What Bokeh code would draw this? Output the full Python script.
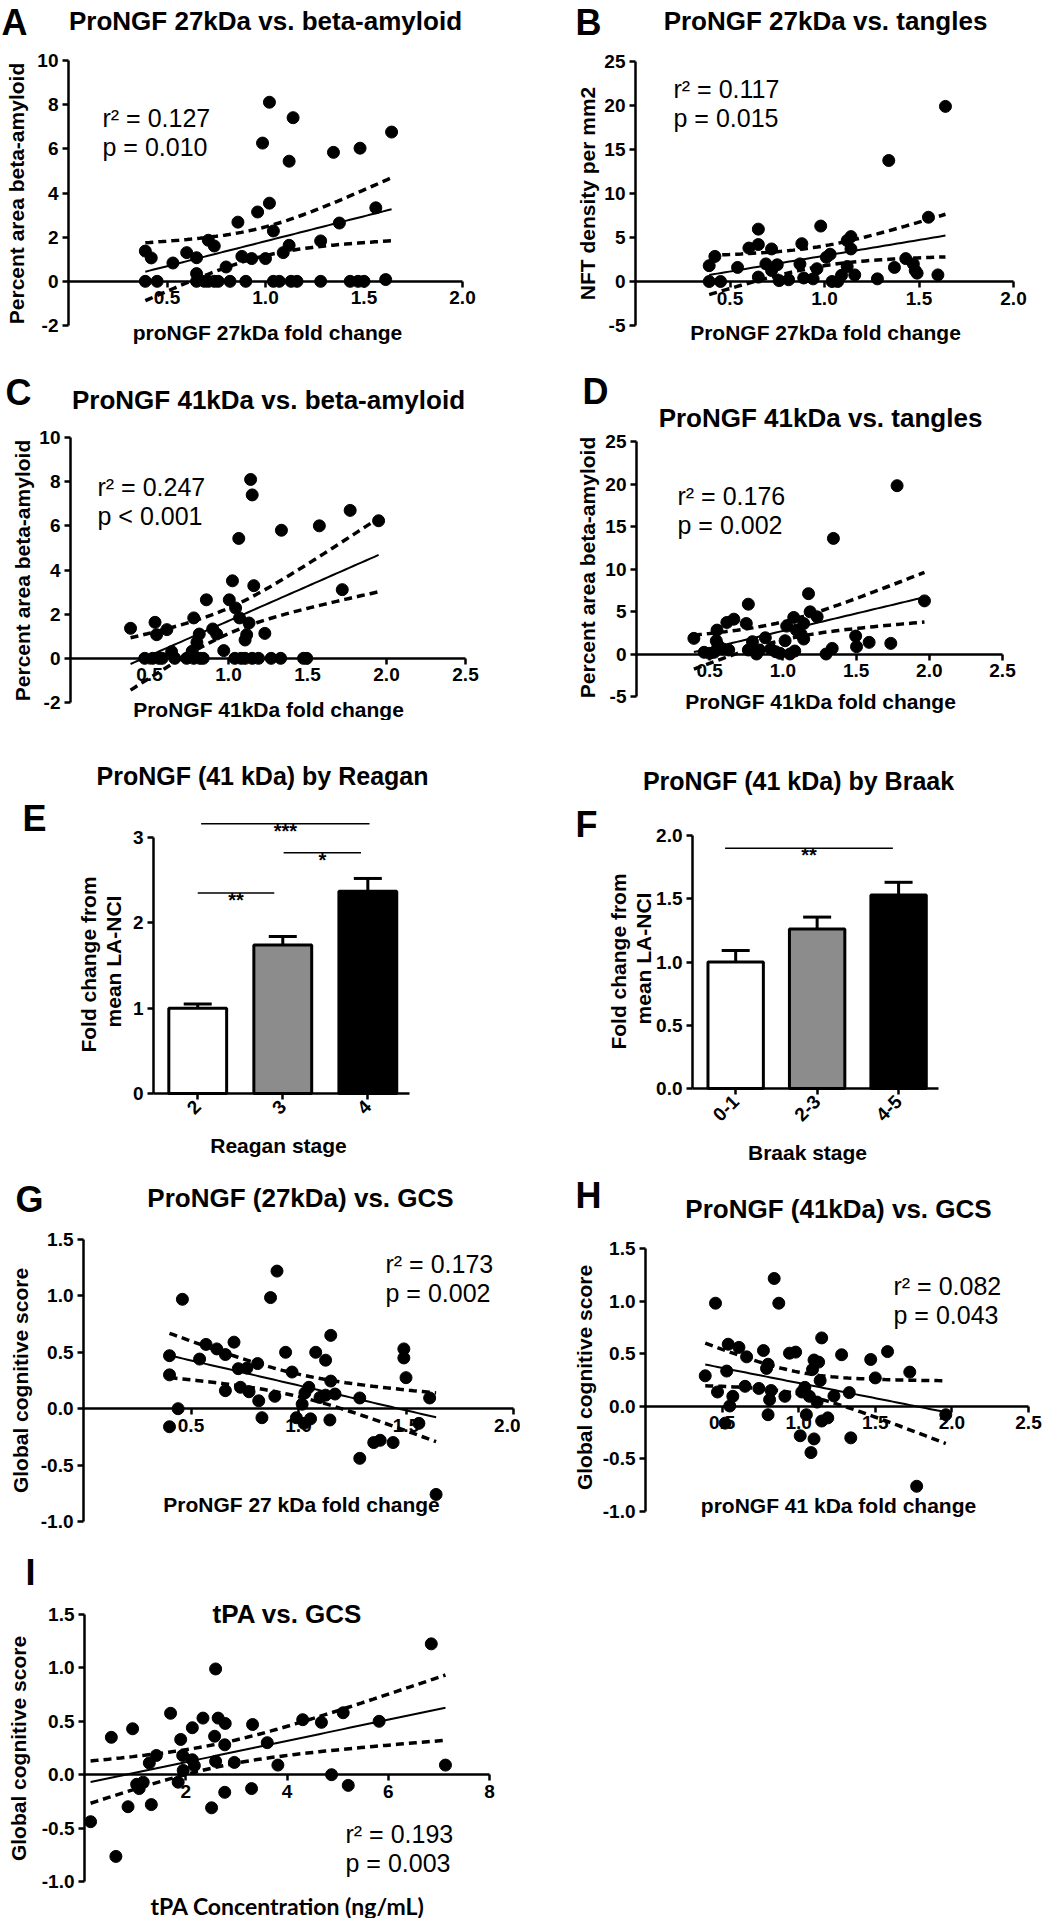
import math
import numpy as np
from bokeh.plotting import figure
from bokeh.models import (Range1d, LinearAxis, FixedTicker, NumeralTickFormatter, Label,
                          Whisker, TeeHead, ColumnDataSource)
from bokeh.layouts import row, column
from bokeh.embed import file_html
from bokeh.resources import INLINE

# ---------------- DATA ----------------
# A: proNGF 27kDa fold change vs percent area beta-amyloid
a_x = [1.02, 1.14, 0.985, 1.64, 1.12, 1.345, 1.48, 1.02, 0.96, 1.56, 0.86, 1.375, 1.04, 0.71,
       0.74, 1.28, 1.12, 1.09, 0.39, 0.42, 0.53, 0.60, 0.65, 0.88, 0.93, 1.00, 0.80, 0.65,
       0.39, 0.45, 0.65, 0.69, 0.71, 0.74, 0.76, 0.82, 0.90, 1.04, 1.07, 1.13, 1.16, 1.28,
       1.43, 1.47, 1.50, 1.61]
a_y = [8.11, 7.41, 6.26, 6.76, 5.44, 5.84, 6.03, 3.54, 3.14, 3.33, 2.68, 2.64, 2.28, 1.86,
       1.60, 1.83, 1.63, 1.30, 1.37, 1.06, 0.83, 1.30, 1.07, 1.13, 1.03, 1.03, 0.65, 0.35,
       0, 0, 0, 0, 0, 0, 0, 0, 0, 0, 0, 0, 0, 0, 0, 0, 0, 0.08]
# B: ProNGF 27kDa fold change vs NFT density
b_x = [1.64, 1.34, 0.98, 0.65, 1.55, 1.14, 0.88, 0.65, 0.60, 0.72, 0.39, 0.42, 0.54, 0.69,
       0.72, 0.75, 0.87, 1.01, 1.03, 1.12, 1.14, 1.12, 0.96, 1.09, 1.16, 1.37, 1.43, 1.47,
       1.49, 1.60, 1.28, 0.39, 0.45, 0.65, 0.76, 0.81, 0.89, 0.94, 1.04, 1.07, 1.48]
b_y = [19.9, 13.75, 6.3, 5.95, 7.3, 5.1, 4.3, 4.2, 3.8, 3.7, 1.8, 2.85, 1.6, 2.0, 1.25, 1.9,
       2.0, 2.75, 3.1, 4.65, 3.7, 1.7, 1.45, 0.7, 0.75, 1.6, 2.6, 2.0, 0.95, 0.75, 0.3, 0,
       0, 0.5, 0.1, 0.2, 0.4, 0.3, 0, 0, 1.25]
# C: ProNGF 41kDa fold change vs percent area beta-amyloid
c_x = [1.14, 1.15, 1.065, 1.335, 1.575, 1.77, 1.95, 1.025, 1.16, 0.86, 1.005, 1.045, 1.72,
       0.78, 0.535, 0.38, 0.545, 0.61, 0.815, 0.90, 0.925, 1.07, 1.13, 1.115, 1.105, 1.23,
       0.80, 0.97, 0.64, 0.77, 0.47, 0.52, 0.56, 0.58, 0.66, 0.735, 0.78, 0.82, 0.84, 1.04,
       1.08, 1.105, 1.15, 1.19, 1.27, 1.33, 1.475, 1.495]
c_y = [8.1, 7.4, 5.43, 5.8, 6.0, 6.7, 6.23, 3.51, 3.29, 2.65, 2.65, 2.28, 3.11, 1.83, 1.63,
       1.36, 1.07, 1.30, 1.10, 1.33, 1.10, 1.83, 1.60, 1.07, 0.83, 1.13, 0.72, 0.35, 0.30,
       0.32, 0, 0, 0, 0, 0, 0, 0, 0, 0, 0, 0, 0, 0, 0, 0, 0, 0, 0]
# D: ProNGF 41kDa fold change vs tangles
d_x = [1.967, 1.175, 0.764, 1.186, 1.234, 1.074, 0.665, 0.617, 0.75, 1.142, 0.55, 1.026,
       1.092, 1.125, 1.142, 0.88, 0.792, 1.015, 0.392, 0.545, 0.556, 0.59, 1.497, 1.503,
       1.589, 1.737, 0.462, 0.50, 0.53, 0.63, 0.764, 0.82, 0.84, 0.917, 0.95, 0.98, 1.048,
       1.081, 1.295, 1.337, 1.78, 1.345]
d_y = [6.25, 7.1, 5.86, 4.96, 4.37, 4.30, 4.10, 3.71, 3.59, 3.59, 2.81, 3.28, 2.81, 2.30,
       1.76, 1.91, 1.45, 1.56, 1.84, 1.56, 1.05, 0.59, 2.11, 0.86, 1.37, 1.25, 0.2, 0.08,
       0.2, 0.47, 0.47, 0, 0.47, 0.59, 0.27, 0.08, 0, 0.35, 0, 0.66, 19.8, 13.6]
# E: ProNGF (41 kDa) by Reagan stage
reagan_stages = ["2", "3", "4"]
reagan_mean = [1.00, 1.74, 2.37]
reagan_sem = [0.05, 0.10, 0.15]
reagan_sig_from = [1.04, 2.01, 1.00]
reagan_sig_to = [3.02, 2.92, 1.90]
reagan_sig_y = [3.16, 2.82, 2.35]
reagan_sig_text = ["***", "*", "**"]
# F: ProNGF (41 kDa) by Braak stage
braak_stages = ["0-1", "2-3", "4-5"]
braak_mean = [1.00, 1.26, 1.53]
braak_sem = [0.09, 0.095, 0.10]
braak_sig_from = [0.87]
braak_sig_to = [2.93]
braak_sig_y = [1.90]
braak_sig_text = ["**"]
# G: ProNGF 27kDa vs global cognitive score
g_x = [0.90, 0.87, 0.46, 1.15, 0.57, 0.70, 0.62, 0.66, 0.40, 0.54, 0.94, 1.08, 1.126, 0.81,
       0.76, 0.72, 0.97, 0.40, 1.15, 1.49, 1.49, 1.50, 0.73, 0.77, 0.66, 0.815, 0.89, 1.048,
       1.03, 1.10, 1.126, 1.17, 1.285, 1.61, 0.44, 1.017, 0.99, 1.056, 1.026, 0.83, 1.146,
       0.40, 1.56, 1.35, 1.38, 1.44, 1.285, 1.64]
g_y = [1.22, 0.985, 0.97, 0.65, 0.57, 0.59, 0.53, 0.48, 0.47, 0.44, 0.50, 0.50, 0.43, 0.40,
       0.36, 0.355, 0.325, 0.30, 0.245, 0.45, 0.53, 0.275, 0.19, 0.15, 0.16, 0.07, 0.11,
       0.19, 0.14, 0.10, 0.12, 0.13, 0.095, 0.095, 0.0, 0.04, -0.08, -0.09, -0.13, -0.08,
       -0.10, -0.16, -0.13, -0.30, -0.28, -0.30, -0.44, -0.76]
# H: ProNGF 41kDa vs global cognitive score
h_x = [0.84, 0.457, 0.87, 1.15, 0.54, 0.61, 0.77, 0.94, 0.98, 1.28, 1.58, 1.47, 0.66, 1.10,
       1.13, 0.80, 0.79, 0.53, 1.09, 1.725, 0.39, 1.50, 1.14, 0.65, 0.74, 0.47, 0.82, 1.04,
       1.02, 1.33, 0.57, 0.91, 1.07, 1.23, 0.81, 0.55, 1.12, 1.05, 0.80, 1.96, 1.15, 1.19,
       0.52, 1.01, 1.10, 1.34, 1.08, 1.77]
h_y = [1.215, 0.98, 0.98, 0.65, 0.59, 0.56, 0.53, 0.505, 0.515, 0.49, 0.52, 0.445, 0.47,
       0.44, 0.42, 0.40, 0.36, 0.335, 0.35, 0.325, 0.29, 0.27, 0.245, 0.19, 0.17, 0.136,
       0.15, 0.18, 0.136, 0.13, 0.095, 0.095, 0.095, 0.098, 0.063, 0.003, 0.04, -0.08,
       -0.08, -0.08, -0.14, -0.11, -0.16, -0.28, -0.31, -0.30, -0.44, -0.76]
# I: tPA concentration vs global cognitive score
i_x = [6.85, 2.59, 1.70, 0.53, 0.95, 2.34, 2.13, 2.64, 2.78, 3.32, 1.90, 2.57, 2.77, 3.61,
       4.31, 4.68, 5.11, 5.82, 1.42, 1.28, 1.94, 2.13, 2.17, 2.59, 2.96, 3.82, 7.13, 1.95,
       4.88, 1.03, 1.16, 1.08, 1.85, 2.77, 3.30, 5.21, 0.86, 1.32, 2.51, 0.12, 0.62]
i_y = [1.225, 0.99, 0.575, 0.35, 0.43, 0.53, 0.44, 0.53, 0.48, 0.47, 0.33, 0.36, 0.28, 0.30,
       0.515, 0.49, 0.58, 0.50, 0.18, 0.11, 0.18, 0.14, 0.085, 0.125, 0.115, 0.09, 0.09,
       0.04, 0.0, -0.09, -0.07, -0.13, -0.07, -0.165, -0.13, -0.10, -0.30, -0.28, -0.31,
       -0.44, -0.765]

stats_text = {
    "A": ("r\u00b2 = 0.127", "p = 0.010"),
    "B": ("r\u00b2 = 0.117", "p = 0.015"),
    "C": ("r\u00b2 = 0.247", "p < 0.001"),
    "D": ("r\u00b2 = 0.176", "p = 0.002"),
    "G": ("r\u00b2 = 0.173", "p = 0.002"),
    "H": ("r\u00b2 = 0.082", "p = 0.043"),
    "I": ("r\u00b2 = 0.193", "p = 0.003"),
}

# ---------------- LAYOUT / STYLE ----------------
FONT = "Liberation Sans"
T95 = 2.01

# cell = (left, top, width, height) of each figure on the page;
# plot = pixel box (left, top, right, bottom) spanned by the axes' ranges xr / yr
specs = {
    "A": dict(cell=(0, 0, 520, 350), plot=(68, 60, 462, 325), xr=(0, 2), yr=(-2, 10)),
    "B": dict(cell=(520, 0, 541, 350), plot=(635, 61, 1013, 325), xr=(0, 2), yr=(-5, 25)),
    "C": dict(cell=(0, 350, 520, 370), plot=(70, 437, 465, 702), xr=(0, 2.5), yr=(-2, 10)),
    "D": dict(cell=(520, 350, 541, 370), plot=(636, 441, 1002, 696), xr=(0, 2.5), yr=(-5, 25)),
    "E": dict(cell=(0, 720, 520, 448), plot=(153, 837, 409, 1093), xr=(0.48, 3.49), yr=(0, 3)),
    "F": dict(cell=(520, 720, 541, 448), plot=(692, 835, 938, 1088), xr=(0.47, 3.49), yr=(0, 2)),
    "G": dict(cell=(0, 1168, 520, 367), plot=(83, 1239, 513, 1521), xr=(0, 2), yr=(-1, 1.5)),
    "H": dict(cell=(520, 1168, 541, 367), plot=(645, 1248, 1028, 1511), xr=(0, 2.5), yr=(-1, 1.5)),
    "I": dict(cell=(0, 1535, 520, 383), plot=(84, 1614, 489, 1881), xr=(0, 8), yr=(-1, 1.5)),
}


def scales(s):
    l, t, r, b = s["plot"]
    x0, x1 = s["xr"]
    y0, y1 = s["yr"]
    return (x1 - x0) / (r - l), (y1 - y0) / (b - t)


def make_fig(s):
    cx, cy, cw, ch = s["cell"]
    l, t, r, b = s["plot"]
    x0, x1 = s["xr"]
    y0, y1 = s["yr"]
    sx, sy = scales(s)
    X0 = x0 - (l - cx) * sx
    X1 = x1 + (cx + cw - r) * sx
    YT = y1 + (t - cy) * sy
    YB = y0 - (cy + ch - b) * sy
    p = figure(width=cw, height=ch, x_range=Range1d(X0, X1), y_range=Range1d(YB, YT),
               output_backend="svg", toolbar_location=None,
               x_axis_location=None, y_axis_location=None,
               min_border=0, min_border_left=0, min_border_right=0,
               min_border_top=0, min_border_bottom=0)
    p.title.visible = False
    p.outline_line_color = None
    p.background_fill_color = "white"
    p.border_fill_color = "white"
    p.xgrid.visible = False
    p.ygrid.visible = False
    return p


def style_axis(ax):
    ax.axis_line_width = 2.5
    ax.axis_line_color = "black"
    ax.major_tick_line_width = 2.5
    ax.major_tick_line_color = "black"
    ax.major_tick_in = 0
    ax.major_tick_out = 6
    ax.minor_tick_line_color = None
    ax.major_label_text_font = FONT
    ax.major_label_text_font_size = "19px"
    ax.major_label_text_font_style = "bold"
    ax.major_label_text_color = "black"
    ax.major_label_standoff = 4


def add_axes(p, s, yticks, yfmt, xticks, xfmt=None, xcats=None):
    x0, x1 = s["xr"]
    y0, y1 = s["yr"]
    ya = LinearAxis(ticker=FixedTicker(ticks=yticks), formatter=NumeralTickFormatter(format=yfmt),
                    fixed_location=x0, bounds=(y0, y1))
    style_axis(ya)
    p.add_layout(ya, "left")
    if xcats is None:
        xa = LinearAxis(ticker=FixedTicker(ticks=xticks), formatter=NumeralTickFormatter(format=xfmt),
                        fixed_location=0, bounds=(x0, x1))
    else:
        xa = LinearAxis(ticker=FixedTicker(ticks=xticks), fixed_location=0, bounds=(x0, x1),
                        major_label_overrides={q: c for q, c in zip(xticks, xcats)})
    style_axis(xa)
    if xcats is not None:
        xa.major_label_orientation = math.pi / 4
    p.add_layout(xa, "below")


def to_data(s, px, py):
    l, t, r, b = s["plot"]
    sx, sy = scales(s)
    return s["xr"][0] + (px - l) * sx, s["yr"][1] - (py - t) * sy


def txt(p, s, px, py, text, size, bold=True, align="center", baseline="middle",
        angle=0.0, font=FONT):
    x, y = to_data(s, px, py)
    p.add_layout(Label(x=x, y=y, text=text, text_font=font, text_font_size=f"{size}px",
                       text_font_style="bold" if bold else "normal", text_color="black",
                       text_align=align, text_baseline=baseline, angle=angle))


def regression(xs, ys):
    xs = np.asarray(xs, float)
    ys = np.asarray(ys, float)
    n = len(xs)
    b1, b0 = np.polyfit(xs, ys, 1)
    resid = ys - (b0 + b1 * xs)
    sd = math.sqrt(float(np.sum(resid ** 2)) / (n - 2))
    xbar = xs.mean()
    sxx = float(np.sum((xs - xbar) ** 2))
    xg = np.linspace(xs.min(), xs.max(), 60)
    yg = b0 + b1 * xg
    h = T95 * sd * np.sqrt(1.0 / n + (xg - xbar) ** 2 / sxx)
    return xg, yg, yg - h, yg + h


def scatter_panel(key, xs, ys, yticks, xticks, yfmt, xfmt, letter_pos, title, title_pos,
                  ylabel, ylabel_pos, xlabel, xlabel_pos, stat_pos, xlabel_font=FONT,
                  xlabel_size=21):
    s = specs[key]
    p = make_fig(s)
    add_axes(p, s, yticks, yfmt, xticks, xfmt)

    xg, yg, lo, hi = regression(xs, ys)
    p.line(xg, hi, line_color="black", line_width=3.5, line_dash="8 5")
    p.line(xg, lo, line_color="black", line_width=3.5, line_dash="8 5")
    p.line(xg, yg, line_color="black", line_width=2)
    p.scatter(xs, ys, size=12, color="black")

    txt(p, s, letter_pos[0], letter_pos[1], key, 36, align="left")
    txt(p, s, title_pos[0], title_pos[1], title, 26)
    txt(p, s, ylabel_pos[0], ylabel_pos[1], ylabel, 21, angle=math.pi / 2)
    txt(p, s, xlabel_pos[0], xlabel_pos[1], xlabel, xlabel_size, font=xlabel_font)
    r2, pv = stats_text[key]
    txt(p, s, stat_pos[0], stat_pos[1], r2, 25, bold=False, align="left")
    txt(p, s, stat_pos[0], stat_pos[1] + 29, pv, 25, bold=False, align="left")
    return p


def bar_panel(key, cats, means, sems, sig_from, sig_to, sig_y, sig_text, yticks, yfmt,
              letter_pos, title, title_pos, ylab_pos, xlabel, xlabel_pos):
    s = specs[key]
    p = make_fig(s)
    pos = [i + 1 for i in range(len(cats))]
    add_axes(p, s, yticks, yfmt, pos, xcats=cats)

    src = ColumnDataSource(dict(x=pos, top=means, upper=[m + e for m, e in zip(means, sems)],
                                color=["white", "#8c8c8c", "black"]))
    p.add_layout(Whisker(base="x", upper="upper", lower="top", source=src,
                         upper_head=TeeHead(size=28, line_width=3, line_color="black"),
                         lower_head=None, line_width=3, line_color="black"))
    p.vbar(x="x", top="top", bottom=0, width=0.68, source=src, fill_color="color",
           line_color="black", line_width=3)

    for a, b_, yv, t in zip(sig_from, sig_to, sig_y, sig_text):
        p.segment(x0=[a], y0=[yv], x1=[b_], y1=[yv], line_color="black", line_width=1.5)
        p.add_layout(Label(x=(a + b_) / 2, y=yv, y_offset=-7, text=t, text_font=FONT,
                           text_font_size="20px", text_font_style="bold", text_color="black",
                           text_align="center", text_baseline="alphabetic"))

    txt(p, s, letter_pos[0], letter_pos[1], key, 36, align="left")
    txt(p, s, title_pos[0], title_pos[1], title, 25)
    txt(p, s, ylab_pos[0], ylab_pos[1], "Fold change from", 21, angle=math.pi / 2)
    txt(p, s, ylab_pos[0] + 25, ylab_pos[1] - 3, "mean LA-NCI", 21, angle=math.pi / 2)
    txt(p, s, xlabel_pos[0], xlabel_pos[1], xlabel, 21)
    return p


ab_ticks = [-2, 0, 2, 4, 6, 8, 10]
nft_ticks = [-5, 0, 5, 10, 15, 20, 25]
gcs_ticks = [-1.0, -0.5, 0.0, 0.5, 1.0, 1.5]

pA = scatter_panel("A", a_x, a_y, ab_ticks, [0.5, 1.0, 1.5, 2.0], "0", "0.0",
                   (1, 22), "ProNGF 27kDa vs. beta-amyloid", (265, 20),
                   "Percent area beta-amyloid", (16, 193),
                   "proNGF 27kDa fold change", (267, 332), (102, 117))
pB = scatter_panel("B", b_x, b_y, nft_ticks, [0.5, 1.0, 1.5, 2.0], "0", "0.0",
                   (575, 22), "ProNGF 27kDa vs. tangles", (825, 20),
                   "NFT density per mm2", (587, 193),
                   "ProNGF 27kDa fold change", (825, 332), (673, 88))
pC = scatter_panel("C", c_x, c_y, ab_ticks, [0.5, 1.0, 1.5, 2.0, 2.5], "0", "0.0",
                   (5, 392), "ProNGF 41kDa vs. beta-amyloid", (268, 399),
                   "Percent area beta-amyloid", (22, 570),
                   "ProNGF 41kDa fold change", (268, 709), (97, 486))
pD = scatter_panel("D", d_x, d_y, nft_ticks, [0.5, 1.0, 1.5, 2.0, 2.5], "0", "0.0",
                   (582, 391), "ProNGF 41kDa vs. tangles", (820, 417),
                   "Percent area beta-amyloid", (587, 567),
                   "ProNGF 41kDa fold change", (820, 701), (677, 495))
pE = bar_panel("E", reagan_stages, reagan_mean, reagan_sem, reagan_sig_from, reagan_sig_to,
               reagan_sig_y, reagan_sig_text, [0, 1, 2, 3], "0",
               (22, 818), "ProNGF (41 kDa) by Reagan", (262, 775), (88, 964),
               "Reagan stage", (278, 1145))
pF = bar_panel("F", braak_stages, braak_mean, braak_sem, braak_sig_from, braak_sig_to,
               braak_sig_y, braak_sig_text, [0, 0.5, 1.0, 1.5, 2.0], "0.0",
               (575, 824), "ProNGF (41 kDa) by Braak", (798, 780), (618, 961),
               "Braak stage", (807, 1152))
pG = scatter_panel("G", g_x, g_y, gcs_ticks, [0.5, 1.0, 1.5, 2.0], "0.0", "0.0",
                   (15, 1199), "ProNGF (27kDa) vs. GCS", (300, 1197),
                   "Global cognitive score", (20, 1380),
                   "ProNGF 27 kDa fold change", (301, 1504), (385, 1263))
pH = scatter_panel("H", h_x, h_y, gcs_ticks, [0.5, 1.0, 1.5, 2.0, 2.5], "0.0", "0.0",
                   (575, 1195), "ProNGF (41kDa) vs. GCS", (838, 1208),
                   "Global cognitive score", (584, 1377),
                   "proNGF 41 kDa fold change", (838, 1505), (893, 1285))
pI = scatter_panel("I", i_x, i_y, gcs_ticks, [2, 4, 6, 8], "0.0", "0",
                   (25, 1572), "tPA vs. GCS", (287, 1613),
                   "Global cognitive score", (18, 1748),
                   "tPA Concentration (ng/mL)", (287, 1905), (345, 1833),
                   xlabel_font="Lato", xlabel_size=23)

layout = column(row(pA, pB), row(pC, pD), row(pE, pF), row(pG, pH), row(pI))
open("out.html", "w").write(file_html(layout, INLINE))
